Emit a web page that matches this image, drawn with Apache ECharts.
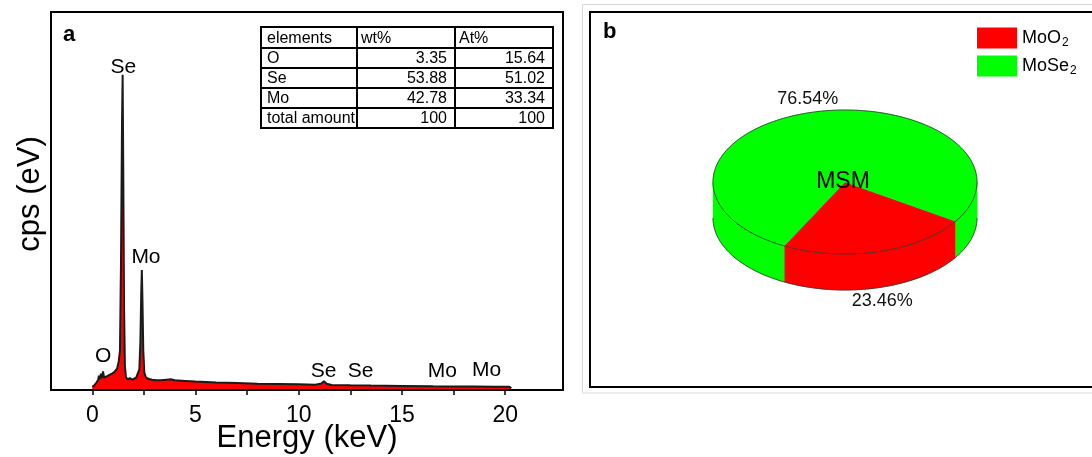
<!DOCTYPE html>
<html>
<head>
<meta charset="utf-8">
<script src="https://cdn.jsdelivr.net/npm/echarts@6/dist/echarts.min.js"></script>
<style>
html,body{margin:0;padding:0;background:#fff;}
#chart{width:1092px;height:457px;}
</style>
</head>
<body>
<div id="chart"></div>
<script>
// ---------- Panel a: EDS spectrum ----------
const energy = [0.0,0.1,0.2,0.28,0.32,0.36,0.42,0.47,0.52,0.57,0.65,0.75,0.85,0.95,1.05,1.1,1.2,1.28,1.34,1.39,1.44,1.47,1.5,1.54,1.58,1.63,1.72,1.82,1.92,2.02,2.12,2.2,2.28,2.33,2.37,2.4,2.43,2.47,2.52,2.6,2.75,2.9,3.1,3.3,3.6,3.8,4.0,4.5,5.0,6.0,7.0,8.0,9.0,10.0,10.8,11.1,11.22,11.35,11.6,12.5,13.5,15.0,16.5,17.5,18.5,19.5,20.2,20.3];
const counts = [0.4,0.9,1.8,2.6,4.0,2.8,4.6,3.2,5.3,3.4,3.8,3.9,4.3,4.6,5.0,5.0,6.2,8.5,12,40,85,100,70,25,7,3.5,2.8,3.2,2.7,3.0,3.3,3.6,6,15,30,37.7,28,12,5,3.4,2.9,2.7,2.5,2.5,2.7,2.8,2.5,2.3,2.1,1.8,1.6,1.4,1.3,1.2,1.1,1.5,2.2,1.4,1.0,0.9,0.8,0.7,0.6,0.55,0.5,0.45,0.4,0.0];

const peakNames = ['O','Se','Mo','Se','Se','Mo','Mo'];
const peakEnergy = [0.53,1.5,2.6,11.2,13.0,16.95,19.1];
const peakCps = [10.2,102.5,41.9,5.4,5.4,5.4,5.75];

const xTickValues = [0,2.5,5,7.5,10,12.5,15,17.5,20];
const xLabelValues = [0,5,10,15,20];

// Composition table
const tableHeader = ['elements','wt%','At%'];
const tableElements = ['O','Se','Mo','total amount'];
const tableWt = ['3.35','53.88','42.78','100'];
const tableAt = ['15.64','51.02','33.34','100'];

// ---------- Panel b: phase pie ----------
const phaseNames = ['MoO2','MoSe2'];
const phaseMain = ['MoO','MoSe'];
const phaseSub = ['2','2'];
const phaseShare = [23.46, 76.54];
const phaseColors = ['#ff0000','#00ff00'];
const pieTitle = 'MSM';

const FONT = '"Liberation Sans", Arial, Helvetica, sans-serif';
const pieLayout = {cx: 845, cy: 182, rx: 132, ry: 72, depth: 36, startAngle: 33, labelOffset: 14};

const chart = echarts.init(document.getElementById('chart'), null, {renderer: 'canvas'});

// table graphic
const colX = [261, 357, 455, 553];
const rowY = [27, 48, 68, 88, 108, 128];
const tableRows = [tableHeader].concat(tableElements.map((e, i) => [e, tableWt[i], tableAt[i]]));
const tableChildren = [];
tableChildren.push({type: 'rect', shape: {x: colX[0], y: rowY[0], width: colX[3] - colX[0], height: rowY[5] - rowY[0]}, style: {fill: '#fff', stroke: '#000', lineWidth: 2}});
for (let r = 1; r < 5; r++) tableChildren.push({type: 'line', shape: {x1: colX[0], y1: rowY[r], x2: colX[3], y2: rowY[r]}, style: {stroke: '#000', lineWidth: 2}});
for (let c = 1; c < 3; c++) tableChildren.push({type: 'line', shape: {x1: colX[c], y1: rowY[0], x2: colX[c], y2: rowY[5]}, style: {stroke: '#000', lineWidth: 2}});
tableRows.forEach((row, r) => {
  row.forEach((txt, c) => {
    const header = r === 0 || c === 0;
    tableChildren.push({type: 'text', style: {
      text: txt,
      x: header ? colX[c] + (c === 0 ? 6 : 4) : colX[c + 1] - 8,
      y: (rowY[r] + rowY[r + 1]) / 2 + 1,
      align: header ? 'left' : 'right', verticalAlign: 'middle',
      font: '16px ' + FONT, fill: '#000'
    }});
  });
});

function renderSlice(params, api) {
  const share = api.value(0), before = api.value(1), total = api.value(2);
  const P = pieLayout;
  const a1 = P.startAngle + before / total * 360;
  const a2 = a1 + share / total * 360;
  const color = api.visual('color');
  const pt = (deg, dy) => { const r = deg * Math.PI / 180; return [P.cx + P.rx * Math.cos(r), P.cy + P.ry * Math.sin(r) + (dy || 0)]; };
  const arc = (s, e, dy) => { const n = Math.max(2, Math.ceil((e - s) / 1.5)); const out = []; for (let i = 0; i <= n; i++) out.push(pt(s + (e - s) * i / n, dy)); return out; };
  const children = [];
  [0, 360].forEach(k => {
    const s = Math.max(a1, k), e = Math.min(a2, k + 180);
    if (e > s) {
      const top = arc(s, e, 0), bot = arc(s, e, P.depth).reverse();
      children.push({type: 'polygon', shape: {points: top.concat(bot)}, style: {fill: color, stroke: color, lineWidth: 0.6}, z2: 1});
      children.push({type: 'polyline', shape: {points: arc(s, e, P.depth)}, style: {stroke: '#333', lineWidth: 0.8, fill: null}, z2: 2});
    }
  });
  children.push({type: 'polygon', shape: {points: [[P.cx, P.cy]].concat(arc(a1, a2, 0))}, style: {fill: color, stroke: color, lineWidth: 0.6}, z2: 5});
  children.push({type: 'polyline', shape: {points: arc(a1, a2, 0)}, style: {stroke: '#333', lineWidth: 0.8, fill: null}, z2: 6});
  const m = (a1 + a2) / 2 * Math.PI / 180;
  const lx = P.cx + (P.rx + P.labelOffset) * Math.cos(m);
  const ly = P.cy + (P.ry + P.labelOffset) * Math.sin(m) + (Math.sin(m) > 0 ? P.depth : 0);
  children.push({type: 'text', style: {text: share.toFixed(2) + '%', x: lx, y: ly, align: 'center', verticalAlign: 'middle', font: '18px ' + FONT, fill: '#111'}, z2: 7});
  return {type: 'group', children};
}

const totalShare = phaseShare.reduce((a, b) => a + b, 0);
const pieSeries = phaseNames.map((name, i) => ({
  type: 'custom',
  name: name,
  coordinateSystem: 'none',
  itemStyle: {color: phaseColors[i]},
  renderItem: renderSlice,
  silent: true,
  data: [[phaseShare[i], phaseShare.slice(0, i).reduce((a, b) => a + b, 0), totalShare]]
}));

const option = {
  animation: false,
  backgroundColor: '#fff',
  textStyle: {fontFamily: FONT},
  grid: {left: 51, right: 529, top: 12, bottom: 67, outerBoundsMode: 'none', containLabel: false, show: true, borderColor: '#000', borderWidth: 2, backgroundColor: 'transparent'},
  xAxis: {
    type: 'value', min: -2, max: 22.8, z: 5,
    name: 'Energy (keV)', nameLocation: 'middle', nameGap: 33, nameMoveOverlap: false,
    nameTextStyle: {fontSize: 31, color: '#000', fontFamily: FONT},
    axisLine: {show: true, onZero: false, lineStyle: {color: '#000', width: 2}},
    axisTick: {show: true, length: 5, inside: false, customValues: xTickValues, lineStyle: {color: '#000', width: 1.5}},
    axisLabel: {show: true, customValues: xLabelValues, fontSize: 23, color: '#000', margin: 14, fontFamily: FONT},
    splitLine: {show: false}
  },
  yAxis: {
    type: 'value', min: -0.6, max: 120,
    name: 'cps (eV)', nameLocation: 'middle', nameGap: 5, nameMoveOverlap: false,
    nameTextStyle: {fontSize: 31, color: '#000', fontFamily: FONT, padding: [0, 0, 0, 14]},
    axisLine: {show: false, onZero: false},
    axisTick: {show: false}, axisLabel: {show: false}, splitLine: {show: false}
  },
  legend: {
    left: 977, top: 27, padding: 0, orient: 'vertical', icon: 'rect', itemWidth: 40, itemHeight: 21, itemGap: 6,
    selectedMode: false,
    data: phaseNames,
    formatter: name => { const i = phaseNames.indexOf(name); return '{t|' + phaseMain[i] + '}{s|' + phaseSub[i] + '}'; },
    textStyle: {
      color: '#000', fontFamily: FONT,
      rich: {
        t: {fontSize: 18, color: '#000', fontFamily: FONT, lineHeight: 21},
        s: {fontSize: 12, color: '#000', fontFamily: FONT, lineHeight: 21, padding: [10, 0, 0, 1]}
      }
    }
  },
  graphic: [
    {type: 'text', z: 100, style: {text: 'a', x: 63, y: 35, verticalAlign: 'middle', font: 'bold 22px ' + FONT, fill: '#000'}},
    {type: 'group', z: 100, children: tableChildren},
    {type: 'rect', z: 0, shape: {x: 582.5, y: 4.5, width: 600, height: 388.5}, style: {fill: 'none', stroke: '#d8d8d8', lineWidth: 1}},
    {type: 'rect', z: 0, shape: {x: 590, y: 12, width: 600, height: 375}, style: {fill: 'none', stroke: '#000', lineWidth: 2}},
    {type: 'text', z: 100, style: {text: 'b', x: 603, y: 32, verticalAlign: 'middle', font: 'bold 22px ' + FONT, fill: '#000'}},
    {type: 'text', z: 100, style: {text: pieTitle, x: pieLayout.cx - 2, y: pieLayout.cy, align: 'center', verticalAlign: 'middle', font: '23px ' + FONT, fill: '#000'}}
  ],
  series: [
    {
      type: 'line', name: 'spectrum', symbol: 'none', silent: true, z: 2,
      data: energy.map((e, i) => [e, counts[i]]),
      lineStyle: {color: '#1a1a1a', width: 2},
      itemStyle: {color: '#1a1a1a'},
      areaStyle: {color: '#ff0000', opacity: 1, origin: 'start'}
    },
    {
      type: 'scatter', name: 'peaks', silent: true, symbolSize: 0, z: 4,
      itemStyle: {color: '#000', opacity: 1},
      data: peakNames.map((n, i) => ({name: n, value: [peakEnergy[i], peakCps[i]]})),
      label: {show: true, position: 'inside', formatter: '{b}', fontSize: 21, color: '#000', textBorderWidth: 0, opacity: 1, fontFamily: FONT}
    }
  ].concat(pieSeries)
};
chart.setOption(option);
</script>
</body>
</html>
